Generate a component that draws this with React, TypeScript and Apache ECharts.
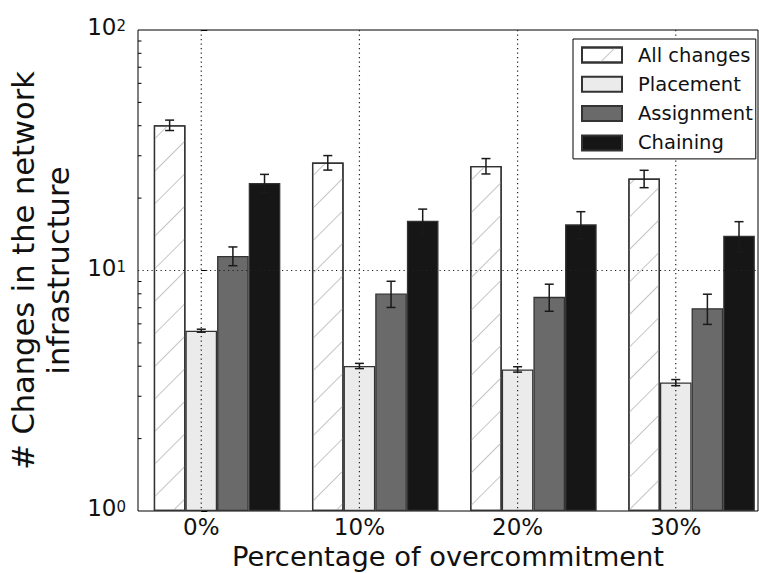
import React, { useEffect, useRef } from 'react';
import * as echarts from 'echarts';

// ---------- data ----------
const categories = ['0%', '10%', '20%', '30%'];
const seriesNames = ['All changes', 'Placement', 'Assignment', 'Chaining'];

const allChanges = [40.2, 28.1, 27.2, 24.1];
const allChangesErr = [2.0, 1.95, 2.0, 2.0];
const placement = [5.62, 4.01, 3.88, 3.42];
const placementErr = [0.08, 0.1, 0.1, 0.1];
const assignment = [11.5, 8.02, 7.77, 6.97];
const assignmentErr = [1.03, 1.0, 1.0, 1.0];
const chaining = [23.1, 16.1, 15.56, 13.96];
const chainingErr = [2.0, 1.9, 2.0, 2.0];

const yMajorTicks = [1, 10, 100];
const yTickExponents = ['0', '1', '2'];
const yMinorTicks = [2, 3, 4, 5, 6, 7, 8, 9, 20, 30, 40, 50, 60, 70, 80, 90];
const yGridValues = [10];

const xTitle = 'Percentage of overcommitment';
const yTitle = '# Changes in the network\ninfrastructure';

// ---------- styling ----------
const FONT = 'DejaVu Sans';
const TEXT = '#111';
const fills = ['#ffffff', '#ebebeb', '#6a6a6a', '#161616'];
const EDGE = '#333333';

const W = 759;
const H = 573;
const GRID = { left: 138, right: 1, top: 30, bottom: 62 };
const X_MIN = -0.4;
const X_MAX = 3.52;
const BAR_UNITS = 0.2;

export default function App() {
  const ref = useRef<HTMLDivElement>(null);

  useEffect(() => {
    if (!ref.current) return;
    const chart = echarts.init(ref.current, undefined, { renderer: 'svg' });

    const values = [allChanges, placement, assignment, chaining];
    const errs = [allChangesErr, placementErr, assignmentErr, chainingErr];
    const gridW = W - GRID.left - GRID.right;
    const barPx = (BAR_UNITS * gridW) / (X_MAX - X_MIN);

    const barSeries = seriesNames.map((name, j) => ({
      name,
      type: 'bar',
      barWidth: barPx,
      barGap: '-100%',
      z: 2,
      itemStyle: {
        color: fills[j],
        borderColor: EDGE,
        borderWidth: 1.3,
        ...(j === 0
          ? {
              decal: {
                symbol: 'rect',
                symbolSize: 1,
                color: '#c4c4c4',
                dashArrayX: [1, 0],
                dashArrayY: [1, 22],
                rotation: -Math.PI / 4,
              },
            }
          : {}),
      },
      emphasis: { disabled: true },
      data: values[j].map((v, i) => [i + (j - 1) * BAR_UNITS, v]),
    }));

    const errData: number[][] = [];
    seriesNames.forEach((_, j) => {
      values[j].forEach((v, i) => {
        errData.push([i + (j - 1) * BAR_UNITS, v, errs[j][i]]);
      });
    });

    const lineStyle = { stroke: '#1a1a1a', lineWidth: 1.5 };
    const gridStyle = { stroke: '#222', lineWidth: 1.2, lineDash: [1.2, 3.3] };

    const option: any = {
      animation: false,
      grid: {
        left: GRID.left,
        right: GRID.right,
        top: GRID.top,
        bottom: GRID.bottom,
        containLabel: false,
        outerBoundsMode: 'none',
        show: true,
        borderColor: '#000',
        borderWidth: 1,
        backgroundColor: 'transparent',
      },
      legend: {
        data: seriesNames,
        orient: 'vertical',
        left: 573,
        top: 39,
        z: 10,
        icon: 'rect',
        itemWidth: 40,
        itemHeight: 15,
        itemGap: 9.3,
        padding: [6, 3, 6, 8],
        backgroundColor: '#fff',
        borderColor: '#000',
        borderWidth: 1,
        borderRadius: 0,
        selectedMode: false,
        textStyle: {
          fontFamily: FONT,
          fontSize: 19.5,
          lineHeight: 20,
          color: TEXT,
          padding: [0, 0, 0, 11],
        },
      },
      xAxis: {
        type: 'value',
        min: X_MIN,
        max: X_MAX,
        name: xTitle,
        nameLocation: 'middle',
        nameGap: 31,
        nameTextStyle: { fontFamily: FONT, fontSize: 27.3, color: TEXT },
        axisLine: { show: false },
        axisTick: { show: false },
        splitLine: { show: false },
        axisLabel: {
          customValues: categories.map((_, i) => i),
          formatter: (v: number) => categories[Math.round(v)] ?? '',
          fontFamily: FONT,
          fontSize: 23,
          color: TEXT,
          margin: 4,
        },
      },
      yAxis: {
        type: 'log',
        logBase: 10,
        min: 1,
        max: 100,
        name: yTitle,
        nameLocation: 'middle',
        nameGap: 54,
        nameRotate: 90,
        nameTextStyle: { fontFamily: FONT, fontSize: 30.5, lineHeight: 35, color: TEXT },
        axisLine: { show: false },
        splitLine: { show: false },
        minorTick: { show: false },
        axisTick: { show: true, inside: true, length: 6, lineStyle: { color: '#000', width: 1 } },
        axisLabel: {
          margin: 12,
          formatter: (v: number) => {
            const idx = yMajorTicks.findIndex((t) => Math.abs(t - v) / t < 1e-6);
            return idx >= 0 ? `{b|10}{s|${yTickExponents[idx]}}` : '';
          },
          rich: {
            b: {
              fontFamily: FONT,
              fontSize: 23,
              lineHeight: 23,
              color: TEXT,
              verticalAlign: 'bottom',
              padding: [5, 0, 3, 0],
            },
            s: {
              fontFamily: FONT,
              fontSize: 15,
              lineHeight: 15,
              color: TEXT,
              verticalAlign: 'top',
            },
          },
        },
      },
      series: [
        ...barSeries,
        {
          name: 'xgrid',
          type: 'custom',
          z: 3,
          silent: true,
          data: categories.map((_, i) => [i, 1]),
          renderItem: (params: any, api: any) => {
            const cs = params.coordSys;
            const p = api.coord([api.value(0), api.value(1)]);
            return {
              type: 'line',
              shape: { x1: p[0], y1: cs.y, x2: p[0], y2: cs.y + cs.height },
              style: gridStyle,
            };
          },
        },
        {
          name: 'ygrid',
          type: 'custom',
          z: 3,
          silent: true,
          data: yGridValues.map((v) => [X_MIN, v]),
          renderItem: (params: any, api: any) => {
            const cs = params.coordSys;
            const p = api.coord([api.value(0), api.value(1)]);
            return {
              type: 'line',
              shape: { x1: cs.x, y1: p[1], x2: cs.x + cs.width, y2: p[1] },
              style: gridStyle,
            };
          },
        },
        {
          name: 'minorTicks',
          type: 'custom',
          z: 5,
          silent: true,
          data: yMinorTicks.map((v) => [X_MIN, v]),
          renderItem: (params: any, api: any) => {
            const p = api.coord([api.value(0), api.value(1)]);
            return {
              type: 'line',
              shape: { x1: p[0], y1: p[1], x2: p[0] + 3.5, y2: p[1] },
              style: { stroke: '#000', lineWidth: 1 },
            };
          },
        },
        {
          name: 'errors',
          type: 'custom',
          z: 4,
          silent: true,
          data: errData,
          renderItem: (params: any, api: any) => {
            const x = api.value(0);
            const v = api.value(1);
            const e = api.value(2);
            const t = api.coord([x, v + e]);
            const b = api.coord([x, v - e]);
            const cap = 4.5;
            return {
              type: 'group',
              children: [
                { type: 'line', shape: { x1: t[0], y1: t[1], x2: b[0], y2: b[1] }, style: lineStyle },
                { type: 'line', shape: { x1: t[0] - cap, y1: t[1], x2: t[0] + cap, y2: t[1] }, style: lineStyle },
                { type: 'line', shape: { x1: b[0] - cap, y1: b[1], x2: b[0] + cap, y2: b[1] }, style: lineStyle },
              ],
            };
          },
        },
      ],
    };

    chart.setOption(option);
    return () => chart.dispose();
  }, []);

  return (
    <div
      ref={ref}
      style={{ position: 'absolute', left: 0, top: 0, width: W, height: H, background: '#fff' }}
    />
  );
}
